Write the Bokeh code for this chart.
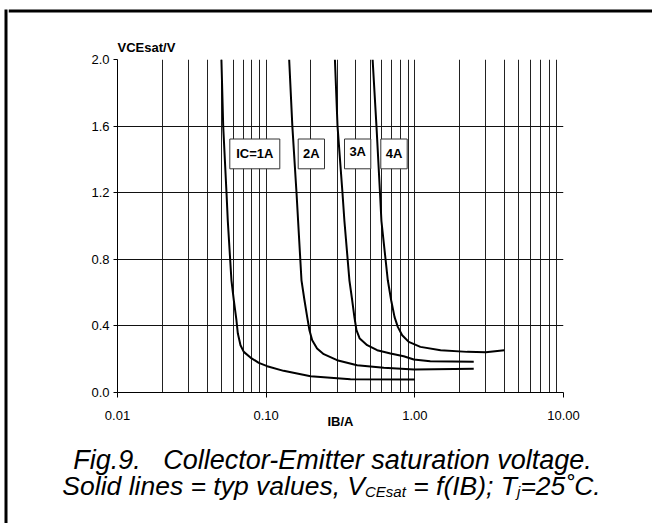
from bokeh.plotting import figure
from bokeh.layouts import row, column
from bokeh.models import (Range1d, FixedTicker, Label, ColumnDataSource, LinearScale, Title)
from bokeh.embed import file_html
from bokeh.resources import INLINE

# ---------------- data ----------------
ib_1a = [0.050, 0.0514, 0.0541, 0.0552, 0.0584, 0.0606, 0.0631, 0.0645, 0.0672, 0.0707,
         0.0784, 0.0892, 0.1016, 0.131, 0.199, 0.369, 1.0]
v_1a = [2.0, 1.6, 1.2, 1.03, 0.674, 0.554, 0.434, 0.354, 0.284, 0.244,
        0.210, 0.178, 0.158, 0.130, 0.098, 0.080, 0.078]

ib_2a = [0.1428, 0.150, 0.160, 0.164, 0.1728, 0.181, 0.1887, 0.1955, 0.204, 0.220,
         0.244, 0.300, 0.409, 0.618, 0.99, 2.49]
v_2a = [2.0, 1.6, 1.2, 1.03, 0.674, 0.554, 0.454, 0.374, 0.314, 0.264,
        0.230, 0.194, 0.164, 0.148, 0.138, 0.142]

ib_3a = [0.290, 0.302, 0.326, 0.336, 0.363, 0.379, 0.392, 0.405, 0.426, 0.478,
         0.558, 0.686, 0.842, 0.984, 1.27, 2.49]
v_3a = [2.0, 1.6, 1.2, 1.03, 0.674, 0.554, 0.454, 0.374, 0.324, 0.284,
        0.254, 0.234, 0.218, 0.198, 0.188, 0.184]

ib_4a = [0.520, 0.552, 0.583, 0.596, 0.658, 0.693, 0.730, 0.768, 0.822, 0.910,
         1.09, 1.49, 2.25, 3.0, 4.0]
v_4a = [2.0, 1.6, 1.2, 1.03, 0.674, 0.554, 0.454, 0.394, 0.344, 0.304,
        0.274, 0.254, 0.244, 0.242, 0.254]

curve_names = ["IC=1A", "2A", "3A", "4A"]

x_ticks = [0.01, 0.1, 1.0, 10.0]
x_tick_labels = ["0.01", "0.10", "1.00", "10.00"]
y_ticks = [0.0, 0.4, 0.8, 1.2, 1.6, 2.0]
y_tick_labels = ["0.0", "0.4", "0.8", "1.2", "1.6", "2.0"]
x_grid = [m * 10.0 ** d for d in (-2, -1, 0) for m in range(2, 10)] + [0.1, 1.0, 10.0]
y_grid = [0.4, 0.8, 1.2, 1.6, 2.0]

NB = "\u00a0"
y_title = "VCEsat/V"
x_title = "IB/A"
caption_1 = "Fig.9." + NB * 3 + "Collector-Emitter saturation voltage."
caption_2 = [("Solid lines = typ values, V", False), ("CEsat", True),
             (NB + "= f(IB); T", False), ("j", True), ("=25˚C.", False)]

FONT = "Liberation Sans"


def blank(w, h, x0, x1, y_bottom, y_top):
    """A figure whose frame fills its whole canvas, in page-pixel coordinates."""
    f = figure(width=w, height=h, x_range=Range1d(x0, x1), y_range=Range1d(y_bottom, y_top),
               min_border=0, x_axis_location=None, y_axis_location=None,
               output_backend="svg", toolbar_location=None, outline_line_color=None,
               background_fill_color="white", border_fill_color="white", frame_align=False)
    f.grid.visible = False
    return f


# ---------------- main plot ----------------
fig = figure(x_axis_type="log", x_range=Range1d(0.01, 10.0), y_range=Range1d(0.0, 2.0),
             frame_width=446, frame_height=333, frame_align=False,
             min_border_left=109, min_border_right=89, min_border_top=46, min_border_bottom=48,
             output_backend="svg", toolbar_location=None,
             background_fill_color="white", border_fill_color="white", outline_line_color=None)

# linear helper ranges in page-pixel coordinates, for the label boxes
fig.extra_x_ranges = {"px": Range1d(117, 563)}
fig.extra_x_scales = {"px": LinearScale()}
fig.extra_y_ranges = {"py": Range1d(392, 59)}
fig.extra_y_scales = {"py": LinearScale()}

xa = fig.xaxis[0]
xa.ticker = FixedTicker(ticks=x_ticks, minor_ticks=[])
xa.major_label_overrides = dict(zip(x_ticks, x_tick_labels))
ya = fig.yaxis[0]
ya.ticker = FixedTicker(ticks=y_ticks, minor_ticks=[])
ya.major_label_overrides = dict(zip(y_ticks, y_tick_labels))
for ax in (xa, ya):
    ax.axis_line_color = "black"
    ax.axis_line_width = 1
    ax.major_tick_line_color = "black"
    ax.major_tick_in = 0
    ax.minor_tick_line_color = None
    ax.major_label_text_font = FONT
    ax.major_label_text_font_size = "13px"
    ax.major_label_text_color = "black"
xa.major_tick_out = 5
xa.major_label_standoff = 13
ya.major_tick_out = 4
ya.major_label_standoff = 4

xa.axis_label = x_title
xa.axis_label_text_font = FONT
xa.axis_label_text_font_size = "13px"
xa.axis_label_text_font_style = "bold"
xa.axis_label_text_color = "black"
xa.axis_label_standoff = -9

fig.add_layout(Title(text=y_title, text_font=FONT, text_font_size="13px",
                     text_font_style="bold", text_color="black", align="left"), "above")

fig.xgrid[0].ticker = FixedTicker(ticks=x_grid)
fig.xgrid[0].grid_line_color = "#222222"
fig.xgrid[0].grid_line_width = 1
fig.ygrid[0].ticker = FixedTicker(ticks=y_grid)
fig.ygrid[0].grid_line_color = "#111111"
fig.ygrid[0].grid_line_width = 1

boxes = ColumnDataSource(dict(left=[229.3, 297.7, 344.0, 380.3],
                              right=[279.3, 324.0, 370.3, 406.7],
                              top=[138.5, 138.5, 138.5, 138.5],
                              bottom=[168.3, 168.3, 168.3, 168.3]))
fig.quad(left="left", right="right", top="top", bottom="bottom", source=boxes,
         fill_color="white", line_color="#333333", line_width=1,
         x_range_name="px", y_range_name="py")

for xs, ys in ((ib_1a, v_1a), (ib_2a, v_2a), (ib_3a, v_3a), (ib_4a, v_4a)):
    fig.line(xs, ys, line_color="black", line_width=2)

label_pos = [(254.3, 153.4), (310.9, 153.4), (357.2, 151.4), (393.5, 153.4)]
for name, (lx, ly) in zip(curve_names, label_pos):
    fig.add_layout(Label(x=lx, y=ly, x_range_name="px", y_range_name="py", text=name,
                         text_font=FONT, text_font_size="13px", text_font_style="bold",
                         text_align="center", text_baseline="middle", text_color="black"))

# ---------------- caption (page-pixel coordinates, y grows downward) ----------------
cap = blank(644, 83, 8, 652, 523, 440)
cap.add_layout(Label(x=332, y=459.0, text=caption_1, text_font=FONT, text_font_size="27px",
                     text_font_style="italic", text_align="center", text_baseline="alphabetic",
                     text_color="black"))

W = {' ': 278, NB: 278, ',': 278, '.': 278, ';': 278, '(': 333, ')': 333, '=': 584, '2': 556,
     '5': 556, '˚': 333, 'B': 667, 'C': 722, 'E': 667, 'I': 278, 'S': 667, 'T': 611,
     'V': 667, 'a': 556, 'd': 556, 'e': 556, 'f': 278, 'i': 222, 'j': 222, 'l': 222,
     'n': 556, 'p': 556, 's': 500, 't': 278, 'u': 556, 'v': 500, 'y': 500, 'o': 556}
MAIN, SUB = 26.5, 15


def width(s, size):
    return sum(W.get(c, 556) for c in s) * size / 1000.0


total = sum(width(s, SUB if sub else MAIN) for s, sub in caption_2)
cx = 331 - total / 2.0
for s, sub in caption_2:
    size = SUB if sub else MAIN
    cap.add_layout(Label(x=cx, y=(491.0 if sub else 485.5), text=s, text_font=FONT,
                         text_font_size=f"{size}px", text_font_style="italic",
                         text_align="left", text_baseline="alphabetic", text_color="black"))
    cx += width(s, size)

# ---------------- outer frame (top and left rules) ----------------
top_strip = blank(644, 13, 8, 652, 13, 0)
top_strip.quad(left=[8], right=[652], top=[9], bottom=[12], fill_color="black", line_color=None)
left_strip = blank(8, 523, 0, 8, 523, 0)
left_strip.quad(left=[4], right=[7], top=[9], bottom=[523], fill_color="black", line_color=None)

p = row(left_strip, column(top_strip, fig, cap, spacing=0), spacing=0)

open("out.html", "w").write(file_html(p, INLINE))
